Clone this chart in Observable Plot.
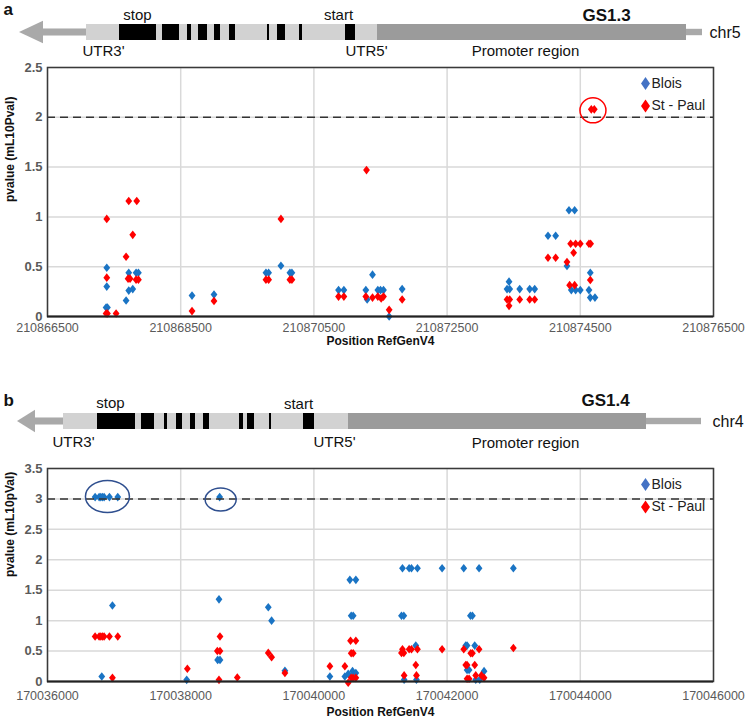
<!DOCTYPE html>
<html><head><meta charset="utf-8">
<script src="https://cdn.jsdelivr.net/npm/d3@7"></script>
<script src="https://cdn.jsdelivr.net/npm/@observablehq/plot@0.6"></script>
<style>
body{margin:0;background:#fff;}
#root{position:relative;width:749px;height:719px;overflow:hidden;font-family:"Liberation Sans",Arial,sans-serif;}
#root > div{position:absolute;left:0;}
#root svg{overflow:visible;}
</style></head><body><div id="root"></div>
<script>
// ---------------- DATA ----------------
// Panel a (GS1.3, chr5)
const xTicksA = [210866500, 210868500, 210870500, 210872500, 210874500, 210876500];
const yTicksA = [0, 0.5, 1, 1.5, 2, 2.5];
const thresholdA = 2;
const bloisA = [
  [210867380,0.09],[210867400,0.09],[210867390,0.30],[210867390,0.49],
  [210867680,0.16],[210867720,0.26],[210867780,0.275],[210867720,0.44],[210867830,0.44],[210867865,0.44],
  [210868670,0.21],[210869000,0.22],
  [210869780,0.44],[210869820,0.44],[210870005,0.51],[210870140,0.44],[210870170,0.44],
  [210870870,0.265],[210870950,0.265],[210871280,0.265],[210871300,0.17],[210871380,0.42],
  [210871460,0.265],[210871500,0.265],[210871545,0.265],[210871630,0.0],[210871825,0.275],
  [210873430,0.35],[210873400,0.275],[210873440,0.275],[210873590,0.275],[210873740,0.275],[210873815,0.275],
  [210874015,0.81],[210874130,0.81],[210874300,0.507],[210874330,1.067],[210874415,1.067],
  [210874365,0.265],[210874430,0.265],[210874500,0.265],[210874650,0.44],[210874630,0.265],
  [210874650,0.19],[210874720,0.19]
];
const stPaulA = [
  [210867390,0.98],[210867390,0.39],[210867380,0.03],[210867400,0.03],[210867530,0.03],
  [210867720,1.16],[210867840,1.16],[210867780,0.82],[210867680,0.60],[210867710,0.38],[210867740,0.38],
  [210867830,0.37],[210867865,0.37],
  [210868670,0.054],[210869000,0.155],
  [210869780,0.37],[210869820,0.37],[210870005,0.98],[210870140,0.37],[210870170,0.37],
  [210870870,0.20],[210870950,0.20],[210871290,1.47],[210871280,0.20],[210871380,0.19],
  [210871460,0.20],[210871510,0.18],[210871545,0.20],[210871630,0.067],[210871825,0.17],
  [210873400,0.17],[210873440,0.17],[210873430,0.107],[210873590,0.17],[210873740,0.17],[210873815,0.17],
  [210874015,0.59],[210874130,0.59],[210874300,0.547],[210874355,0.73],[210874430,0.73],[210874500,0.73],
  [210874400,0.64],[210874340,0.315],[210874415,0.315],[210874630,0.73],[210874655,0.73],
  [210874650,0.366],[210874665,2.08],[210874710,2.08]
];
const circlesA = [[210874690,2.07]];

// Panel b (GS1.4, chr4)
const xTicksB = [170036000, 170038000, 170040000, 170042000, 170044000, 170046000];
const yTicksB = [0, 0.5, 1, 1.5, 2, 2.5, 3, 3.5];
const thresholdB = 3;
const bloisB = [
  [170036715,3.03],[170036775,3.03],[170036800,3.03],[170036825,3.03],[170036850,3.03],[170036930,3.03],[170037055,3.03],
  [170036975,1.25],[170036815,0.082],
  [170038090,0.027],[170038585,3.03],[170038575,1.35],[170038555,0.355],[170038590,0.355],
  [170039315,1.22],[170039365,1.0],[170039565,0.175],
  [170040240,0.082],[170040465,0.082],[170040515,0.125],[170040540,1.67],[170040630,1.67],
  [170040560,1.08],[170040590,1.08],[170040580,0.17],[170040630,0.14],
  [170041330,1.86],[170041430,1.86],[170041465,1.86],[170041555,1.86],[170041925,1.86],[170042250,1.86],[170042480,1.86],[170042995,1.86],
  [170041315,1.08],[170041350,1.08],[170042350,1.08],[170042380,1.08],
  [170041530,0.59],[170042280,0.59],[170042300,0.59],[170042415,0.59],
  [170042300,0.19],[170042330,0.19],[170042555,0.17],
  [170041355,0.03],[170041540,0.03],[170042430,0.03],[170042490,0.03]
];
const stPaulB = [
  [170036715,0.74],[170036775,0.74],[170036800,0.74],[170036825,0.74],[170036850,0.74],[170036930,0.74],[170037055,0.74],
  [170036975,0.06],
  [170038100,0.21],[170038590,0.74],[170038550,0.5],[170038590,0.5],[170038575,0.027],[170038850,0.066],
  [170039315,0.47],[170039365,0.40],[170039565,0.14],
  [170040240,0.25],[170040465,0.25],[170040515,-0.02],[170040550,0.67],[170040630,0.67],
  [170040560,0.465],[170040590,0.465],[170040560,0.06],[170040590,0.06],[170040630,0.06],
  [170041330,0.53],[170041430,0.53],[170041465,0.53],[170041555,0.53],[170041925,0.53],[170042250,0.53],[170042480,0.53],[170042995,0.55],
  [170041315,0.47],[170041350,0.47],[170042355,0.465],[170042380,0.465],
  [170041530,0.27],[170042280,0.27],[170042300,0.27],[170042415,0.27],
  [170041355,0.1],[170041540,0.1],[170042430,0.1],[170042515,0.1],
  [170042300,0.045],[170042330,0.045],[170042555,0.06]
];
const circlesB = [[170036900,3.04,22,16],[170038600,2.99,15.5,11.5]];

// Gene schematics (schematic units)
const exonsA = [[119,156],[162,179],[187,191],[198,207],[214,220],[229,235],[267,269],[277,285],[299,302],[345,355]];
const utrA = [86,377], promoterA = [377,686], tailA = [686,702], arrowA = [19,43,87], barA = [24,40];
const exonsB = [[97,135],[141,154],[164,167],[176,182],[190,195],[203,209],[239,243],[247,254],[269,271],[303,314]];
const utrB = [63,348], promoterB = [348,646], tailB = [646,701], arrowB = [17,35,63], barB = [413,429];

const legendLabels = ["Blois", "St - Paul"];
const seriesColors = ["#1a74c4", "#ff0000"];
const legendColors = ["#4472c4", "#ff0000"];

// ---------------- DRAW ----------------
const FONT = "Liberation Sans, Arial, Helvetica, sans-serif";
const root = document.getElementById("root");
function place(node, top){ const d=document.createElement("div"); d.style.top=top+"px"; d.appendChild(node); root.appendChild(d); }

const diamond = {draw(ctx){ const w=3.4,h=4.3; ctx.moveTo(0,-h); ctx.lineTo(w,0); ctx.lineTo(0,h); ctx.lineTo(-w,0); ctx.closePath(); }};
const bigDiamond = {draw(ctx){ const w=4.5,h=6.5; ctx.moveTo(0,-h); ctx.lineTo(w,0); ctx.lineTo(0,h); ctx.lineTo(-w,0); ctx.closePath(); }};
function ellipse(rx, ry){ const k=0.5523; return {draw(c){
  c.moveTo(rx,0); c.bezierCurveTo(rx,k*ry,k*rx,ry,0,ry); c.bezierCurveTo(-k*rx,ry,-rx,k*ry,-rx,0);
  c.bezierCurveTo(-rx,-k*ry,-k*rx,-ry,0,-ry); c.bezierCurveTo(k*rx,-ry,rx,-k*ry,rx,0); c.closePath(); }}; }

// Gene diagrams (one background svg)
function geneMarks(exons, utr, promoter, tail, arrow, bar, labels){
  const cy = (bar[0]+bar[1])/2, hh = (bar[1]-bar[0]);
  return [
    Plot.rect([[arrow[1], arrow[2]]], {x1:d=>d[0], x2:d=>d[1], y1:cy-hh*0.22, y2:cy+hh*0.22, fill:"#a9a9a9"}),
    Plot.areaY([{x:arrow[0],a:cy,b:cy},{x:arrow[1],a:cy-hh*0.7,b:cy+hh*0.7}], {x:"x", y1:"a", y2:"b", fill:"#a9a9a9"}),
    Plot.rect([tail], {x1:d=>d[0], x2:d=>d[1], y1:cy-hh*0.2, y2:cy+hh*0.2, fill:"#a9a9a9"}),
    Plot.rect([utr], {x1:d=>d[0], x2:d=>d[1], y1:bar[0], y2:bar[1], fill:"#d2d2d2"}),
    Plot.rect([promoter], {x1:d=>d[0], x2:d=>d[1], y1:bar[0], y2:bar[1], fill:"#9b9b9b"}),
    Plot.rect(exons, {x1:d=>d[0], x2:d=>d[1], y1:bar[0], y2:bar[1], fill:"#000"}),
    ...labels.map(l => Plot.text([l[0]], {x:l[1], y:l[2], textAnchor:l[3], lineAnchor:l[6]||"bottom", fontSize:l[4], fontWeight:l[5]||"normal", fill:"#111"}))
  ];
}
const labelsA = [["a",3,14,"start",17,"bold"],["stop",137,19,"middle",15],["start",338,19,"middle",15],["GS1.3",606,20,"middle",17,"bold"],
  ["chr5",709,32,"start",16,"normal","middle"],["UTR3'",82,55,"start",15],["UTR5'",345,55,"start",15],["Promoter region",525,55,"middle",15]];
const labelsB = [["b",3,405,"start",17,"bold"],["stop",110,407,"middle",15],["start",298,408,"middle",15],["GS1.4",605,405,"middle",17,"bold"],
  ["chr4",712,421,"start",16,"normal","middle"],["UTR3'",52,446,"start",15],["UTR5'",313,446,"start",15],["Promoter region",525,447,"middle",15]];

place(Plot.plot({
  width:749, height:719, margin:0,
  x:{domain:[0,749], range:[0,749], axis:null},
  y:{domain:[0,719], range:[0,719], axis:null},
  style:{fontFamily:FONT, background:"transparent"},
  marks:[
    ...geneMarks(exonsA, utrA, promoterA, tailA, arrowA, barA, labelsA),
    ...geneMarks(exonsB, utrB, promoterB, tailB, arrowB, barB, labelsB)
  ]
}), 0);

function scatter({xTicks, yTicks, yMax, threshold, blois, stPaul, circles, circleColor, height, mt, mb, xPad, yTitle, yTitleDy, xTitleDy}){
  const fmt = d => String(d);
  const marks = [
    Plot.gridX(xTicks, {stroke:"#d9d9d9", strokeOpacity:1, strokeWidth:1.5}),
    Plot.gridY(yTicks, {stroke:"#d9d9d9", strokeOpacity:1, strokeWidth:1.5}),
    Plot.axisX(xTicks, {tickSize:0, tickPadding:xPad, fontSize:12.5, fill:"#5a5a5a", tickFormat:fmt, label:null}),
    Plot.axisY(yTicks, {tickSize:0, tickPadding:5, fontSize:13, fontWeight:"bold", fill:"#5a5a5a", tickFormat:fmt, label:null}),
    Plot.dot(blois, {x:d=>d[0], y:d=>d[1], symbol:diamond, fill:seriesColors[0], stroke:"none"}),
    Plot.dot(stPaul, {x:d=>d[0], y:d=>d[1], symbol:diamond, fill:seriesColors[1], stroke:"none"}),
    Plot.ruleY([threshold], {stroke:"#333", strokeWidth:1.6, strokeDasharray:"8,5"}),
    ...circles.map(c => Plot.dot([c], {x:d=>d[0], y:d=>d[1], symbol:ellipse(c[2]||13, c[3]||12.5), fill:"none", stroke:circleColor, strokeWidth:1.5})),
    Plot.frame({stroke:"#3a3a3a", strokeWidth:1.5}),
    Plot.ruleY([0], {stroke:"#222", strokeWidth:2}),
    ...legendLabels.map((lab,i) => Plot.dot([lab], {frameAnchor:"top-right", dx:-68, dy:16+i*22.5, symbol:bigDiamond, fill:legendColors[i], stroke:"none"})),
    ...legendLabels.map((lab,i) => Plot.text([lab], {frameAnchor:"top-right", dx:-62, dy:16+i*22.5, text:d=>d, textAnchor:"start", lineAnchor:"middle", fontSize:14, fill:"#222"})),
    Plot.text(["Position RefGenV4"], {frameAnchor:"bottom", dy:xTitleDy, text:d=>d, lineAnchor:"middle", fontSize:12, fontWeight:"bold", fill:"#111"}),
    Plot.text([yTitle], {frameAnchor:"left", dx:-37, dy:yTitleDy, rotate:-90, text:d=>d, lineAnchor:"middle", fontSize:12, fontWeight:"bold", fill:"#111"})
  ];
  return Plot.plot({
    width:749, height, marginTop:mt, marginBottom:mb, marginLeft:47, marginRight:36,
    x:{domain:[xTicks[0], xTicks[xTicks.length-1]]},
    y:{domain:[0, yMax]},
    style:{fontFamily:FONT, background:"transparent", overflow:"visible"},
    marks
  });
}

place(scatter({xTicks:xTicksA, yTicks:yTicksA, yMax:2.5, threshold:thresholdA, blois:bloisA, stPaul:stPaulA,
  circles:circlesA, circleColor:"#ff0000", height:295, mt:12, mb:34, xPad:7,
  yTitle:"pvalue (mL10Pval)", yTitleDy:10, xTitleDy:25}), 55);
place(scatter({xTicks:xTicksB, yTicks:yTicksB, yMax:3.5, threshold:thresholdB, blois:bloisB, stPaul:stPaulB,
  circles:circlesB, circleColor:"#2f4f8f", height:264, mt:13, mb:38, xPad:10,
  yTitle:"pvalue (mL10pVal)", yTitleDy:2, xTitleDy:31}), 455);
</script></body></html>
